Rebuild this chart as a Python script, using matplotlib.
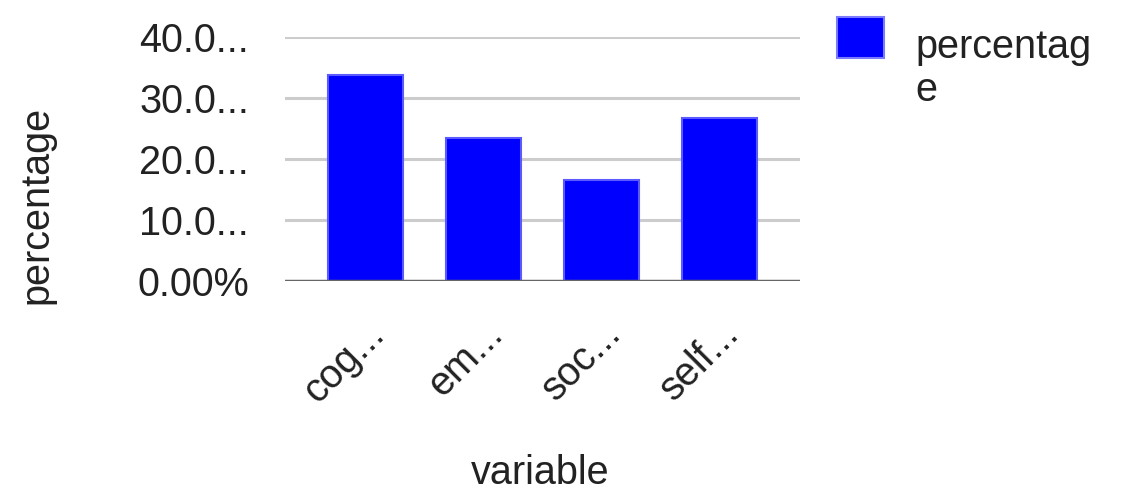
import matplotlib
matplotlib.use("Agg")
import matplotlib.pyplot as plt
from matplotlib.patches import Rectangle

categories = ["cog...", "em...", "soc...", "self..."]
values = [33.8, 23.4, 16.6, 26.7]
yticks = [0, 10, 20, 30, 40]
ytick_labels = ["0.00%", "10.0...", "20.0...", "30.0...", "40.0..."]
series_name = "percentag\ne"

plt.rcParams['font.family'] = ['Liberation Sans', 'DejaVu Sans']

W, H = 1122, 495
FS = 28.5
fig = plt.figure(figsize=(W / 100, H / 100), dpi=100)
ax = fig.add_axes([285 / W, 1 - 281 / H, 515 / W, (281 - 37) / H])

x = list(range(len(categories)))
ax.bar(x, values, width=0.64, color="#0000ff", edgecolor="#5a5aff", linewidth=1.5, zorder=3)

ax.set_xlim(-0.68, 3.68)
ax.set_ylim(0, 40)
ax.set_yticks(yticks)
ax.set_yticklabels(ytick_labels, fontsize=FS, color="#222222")
for y in yticks[1:]:
    ax.axhline(y, color="#cccccc", lw=2.2, zorder=1)
ax.axhline(0, color="#666666", lw=2.5, zorder=4)

ax.set_xticks(x)
ax.set_xticklabels(categories, rotation=45, ha="right", rotation_mode="anchor",
                   fontsize=FS, color="#222222")
ax.tick_params(axis="x", length=0, pad=24)
ax.tick_params(axis="y", length=0, pad=26)
for s in ax.spines.values():
    s.set_visible(False)

fig.text(36 / W, 1 - 205 / H, "percentage", rotation=90, ha="center", va="center",
         fontsize=FS, color="#222222")
fig.text(540 / W, 1 - 484 / H, "variable", ha="center", va="baseline",
         fontsize=FS, color="#222222")

fig.patches.append(Rectangle((837 / W, 1 - 58 / H), 47 / W, 41 / H, transform=fig.transFigure,
                             facecolor="#0000ff", edgecolor="#7a7aff", linewidth=1.5))
fig.text(915 / W, 1 - 58 / H, "percentag", ha="left", va="baseline", fontsize=FS,
         color="#222222")
fig.text(915 / W, 1 - 101 / H, "e", ha="left", va="baseline", fontsize=FS,
         color="#222222")

fig.savefig("out.png", dpi=100)
